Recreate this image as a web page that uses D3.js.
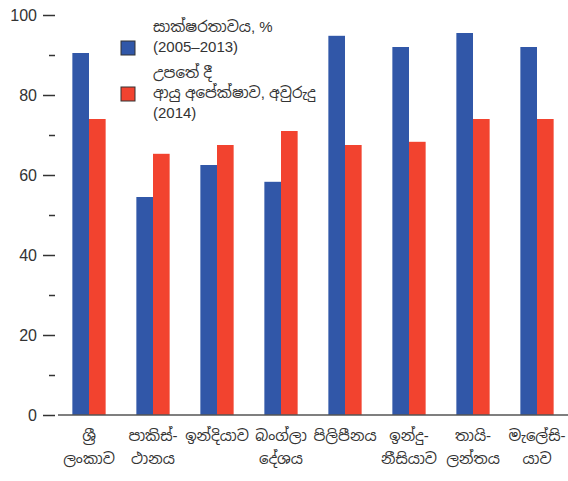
<!DOCTYPE html>
<html>
<head>
<meta charset="utf-8">
<script src="https://cdn.jsdelivr.net/npm/d3@7"></script>
<style>
  body { margin: 0; background: #fff; }
  text { font-family: "Liberation Sans", Arial, "Noto Sans Sinhala", sans-serif; fill: #333; }
</style>
</head>
<body>
<div id="chart"></div>
<script>
// data
const countries = [
  ["ශ්‍රී", "ලංකාව"],
  ["පාකිස්-", "ථානය"],
  ["ඉන්දියාව"],
  ["බංග්ලා", "දේශය"],
  ["පිලිපීනය"],
  ["ඉන්දු-", "නීසියාව"],
  ["තායි-", "ලන්තය"],
  ["මැලේසි-", "යාව"]
];
const literacy = [90.5, 54.5, 62.5, 58.3, 94.8, 92, 95.5, 92];
const lifeExp = [74, 65.3, 67.5, 71, 67.5, 68.3, 74, 74];
const seriesNames = [
  ["සාක්ෂරතාවය, %", "(2005–2013)"],
  ["උපතේ දී", "ආයු අපේක්ෂාව, අවුරුදු", "(2014)"]
];
const colors = ["#3157a8", "#f2432f"];

const width = 568, height = 481;
const svg = d3.select("#chart").append("svg")
  .attr("width", width)
  .attr("height", height);

// scales
const x = d3.scaleBand()
  .domain(d3.range(countries.length))
  .range([57, 569])
  .paddingInner(0.48)
  .paddingOuter(0.24);

const xSub = d3.scaleBand()
  .domain([0, 1])
  .range([0, x.bandwidth()]);

const y = d3.scaleLinear()
  .domain([0, 100])
  .range([415, 15]);

// y axis: major ticks with labels
const yAxis = svg.append("g")
  .attr("transform", "translate(55,0)")
  .call(d3.axisLeft(y).tickValues([0, 20, 40, 60, 80, 100]).tickSize(12).tickPadding(6));
yAxis.select(".domain").remove();
yAxis.selectAll(".tick line").attr("stroke", "#333").attr("stroke-width", 1.5);
yAxis.selectAll(".tick text").style("font-size", "16px").attr("fill", "#333");

// minor ticks
const yMinor = svg.append("g")
  .attr("transform", "translate(55,0)")
  .call(d3.axisLeft(y).tickValues([10, 30, 50, 70, 90]).tickSize(6).tickFormat(""));
yMinor.select(".domain").remove();
yMinor.selectAll(".tick line").attr("stroke", "#333").attr("stroke-width", 1.5);

// bars
const groups = svg.selectAll(".grp")
  .data(countries.map((c, i) => [literacy[i], lifeExp[i]]))
  .enter().append("g")
  .attr("class", "grp")
  .attr("transform", (d, i) => `translate(${x(i)},0)`);

groups.selectAll("rect")
  .data(d => d)
  .enter().append("rect")
  .attr("x", (d, j) => xSub(j))
  .attr("width", xSub.bandwidth())
  .attr("y", d => y(d))
  .attr("height", d => y(0) - y(d))
  .attr("fill", (d, j) => colors[j]);

// baseline
svg.append("line")
  .attr("x1", 58).attr("x2", width)
  .attr("y1", y(0)).attr("y2", y(0))
  .attr("stroke", "#555").attr("stroke-width", 1.5);

// x labels
const labels = svg.selectAll(".xlab")
  .data(countries)
  .enter().append("text")
  .attr("class", "xlab")
  .attr("text-anchor", "middle")
  .style("font-size", "15px")
  .attr("transform", (d, i) => `translate(${x(i) + x.bandwidth() / 2},441)`);
labels.selectAll("tspan")
  .data(d => d)
  .enter().append("tspan")
  .attr("x", 0)
  .attr("dy", (d, k) => k === 0 ? 0 : 23)
  .text(d => d);

// legend
const legendY = [[32, 52], [78, 98, 118]];
const boxY = [41, 87];
seriesNames.forEach((lines, s) => {
  svg.append("rect")
    .attr("x", 121).attr("y", boxY[s])
    .attr("width", 14).attr("height", 14)
    .attr("fill", colors[s])
    .attr("stroke", "#333").attr("stroke-width", 1);
  const t = svg.append("text").style("font-size", "15px");
  lines.forEach((l, k) => {
    t.append("tspan").attr("x", 153).attr("y", legendY[s][k]).text(l);
  });
});
</script>
</body>
</html>
